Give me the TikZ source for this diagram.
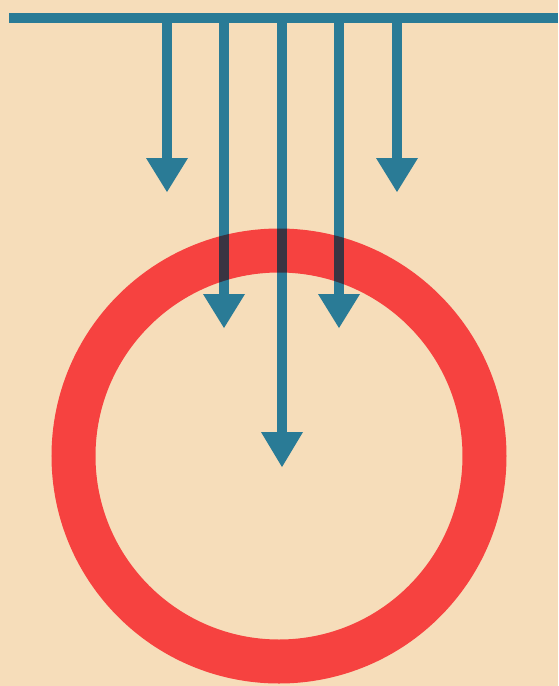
\documentclass[tikz,border=0pt]{standalone}
\usetikzlibrary{calc}
\definecolor{paper}{RGB}{246,221,186}
\definecolor{ink}{RGB}{42,123,150}
\definecolor{ringred}{RGB}{246,66,64}
\definecolor{overlap}{RGB}{58,52,66}
\tikzset{
  shaft/.style={line width=10pt, ink},
  darkshaft/.style={line width=10pt, overlap},
  headtri/.style={fill=ink, draw=none},
}
\begin{document}
\begin{tikzpicture}[x=1pt,y=-1pt]
  \fill[paper] (0,0) rectangle (558,686);
  \useasboundingbox (0,0) rectangle (558,686);
  % ring
  \coordinate (c) at (279,456);
  \draw[ringred, line width=44pt] (c) circle[radius=205.5];
  % top bar
  \coordinate (barL) at (9,17.5);
  \coordinate (barR) at (558,17.5);
  \draw[shaft] (barL) -- (barR);
  % arrows: x, head top, tip
  \foreach \n/\x/\ht/\tp in {a/167/158/192, b/224/294/328, c3/282/432/467, d/339/294/328, e/397/158/192}{
    \coordinate (\n-top) at (\x,17.5);
    \coordinate (\n-base) at (\x,\ht+1);
    \coordinate (\n-tip) at (\x,\tp);
    \draw[shaft] (\n-top) -- (\n-base);
    \fill[headtri] (\x-21,\ht) -- (\x+21,\ht) -- (\n-tip) -- cycle;
  }
  % dark overlap where shafts cross the ring
  \begin{scope}[even odd rule]
    \clip (c) circle[radius=227.5] (c) circle[radius=183.5];
    \foreach \n in {b,c3,d}{
      \draw[darkshaft] (\n-top) -- (\n-base);
    }
  \end{scope}
\end{tikzpicture}
\end{document}
